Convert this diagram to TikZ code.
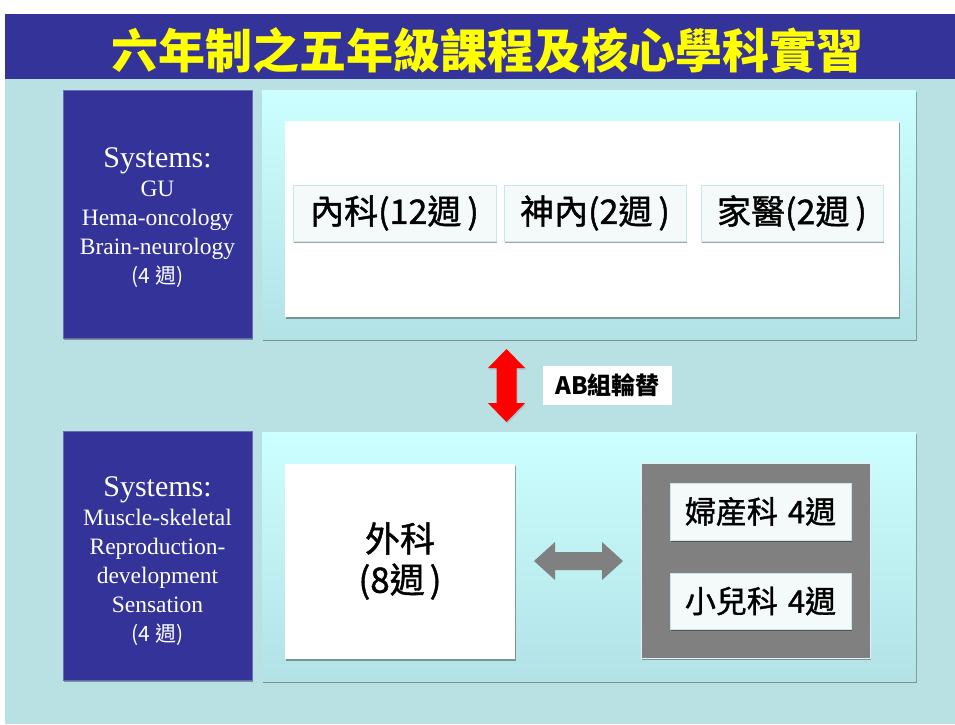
\documentclass[tikz,border=0pt]{standalone}
\usepackage{fontspec}
\setmainfont{Liberation Serif}
\newfontfamily\cjk{Noto Sans CJK TC}
\newfontfamily\cjkh[FakeBold=1.2]{Noto Sans CJK TC}
\usetikzlibrary{shadows}
\definecolor{navy}{HTML}{333399}
\definecolor{navyedge}{HTML}{6A6AB8}
\definecolor{bgteal}{HTML}{B9E1E4}
\definecolor{panetop}{HTML}{CCFFFF}
\definecolor{panebot}{HTML}{B2E2E6}
\definecolor{cellfill}{HTML}{F4F9FA}
\definecolor{celledge}{HTML}{C6E6EA}
\definecolor{grayfill}{HTML}{808080}
\definecolor{titleyellow}{HTML}{FFFF00}
\tikzset{
  shad/.style={drop shadow={shadow xshift=1.2pt, shadow yshift=-2.2pt, fill=black, opacity=0.35}},
  sysbox/.style={fill=navy, draw=navyedge, line width=0.8pt, inner sep=0pt, outer sep=0pt, shad},
  systext/.style={text=white, align=center, font=\fontsize{23.5}{29}\selectfont, inner sep=0pt},
  pane/.style={top color=panetop, bottom color=panebot, draw=none, inner sep=0pt, outer sep=0pt, shad},
  whitebox/.style={fill=white, draw=none, inner sep=0pt, outer sep=0pt, shad},
  cell/.style={fill=cellfill, draw=celledge, line width=0.6pt, inner sep=0pt, outer sep=0pt, shad,
    font=\cjkh\fontsize{34}{38}\selectfont},
  graycell/.style={fill=cellfill, draw=celledge, line width=0.6pt, inner sep=0pt, outer sep=0pt, shad,
    font=\cjkh\fontsize{31}{34}\selectfont},
}
\begin{document}
\begin{tikzpicture}[x=1pt,y=-1pt]
\useasboundingbox (0,0) rectangle (955,724);
\fill[white] (0,0) rectangle (955,724);
\fill[bgteal] (5,79) rectangle (955,724);
\fill[navy] (5,14) rectangle (955,79);
\node[font=\cjk\bfseries\fontsize{47}{50}\selectfont, text=titleyellow] (title) at (487.5,51) {六年制之五年級課程及核心學科實習};

% upper row
\node[sysbox, minimum width=189pt, minimum height=248pt] (sys1) at (157.5,214) {};
\node[systext] (sys1t) at (157.5,218) {{\fontsize{30}{32}\selectfont Systems:}\\GU\\Hema-oncology\\Brain-neurology\\{\cjk\fontsize{21}{24}\selectfont (4 週)}};
\node[pane, minimum width=654pt, minimum height=249pt] (pane1) at (589,214.5) {};
\node[whitebox, minimum width=614pt, minimum height=196pt] (inner1) at (592,219) {};
\node[cell, minimum width=203pt, minimum height=56pt] (med) at (394.5,213) {內科(12週\hspace{6pt})};
\node[cell, minimum width=182pt, minimum height=56pt] (neuro) at (595,213) {神內(2週\hspace{6pt})};
\node[cell, minimum width=182pt, minimum height=56pt] (fam) at (792,213) {家醫(2週\hspace{6pt})};

% rotation arrow and label
\coordinate (swap) at (506.5,385.5);
\fill[red, drop shadow={shadow xshift=1pt, shadow yshift=-1.5pt, opacity=0.3}]
  ([shift={(0,-36.5)}]swap) -- ++(18.5,19) -- ++(-8.5,0) -- ++(0,35) -- ++(8.5,0)
  -- ++(-18.5,19) -- ++(-18.5,-19) -- ++(8.5,0) -- ++(0,-35) -- ++(-8.5,0) -- cycle;
\node[fill=white, minimum width=129pt, minimum height=39pt, inner sep=0pt,
  font=\cjk\bfseries\fontsize{24}{26}\selectfont] (lbl) at (607.5,385.5) {AB組輪替};

% lower row
\node[sysbox, minimum width=189pt, minimum height=249pt] (sys2) at (157.5,555.5) {};
\node[systext] (sys2t) at (157.5,561) {{\fontsize{30}{32}\selectfont Systems:}\\Muscle-skeletal\\Reproduction-\\development\\Sensation\\{\cjk\fontsize{21}{24}\selectfont (4 週)}};
\node[pane, minimum width=654pt, minimum height=249pt] (pane2) at (589,556.5) {};
\node[whitebox, minimum width=230pt, minimum height=195pt, align=center,
  font=\cjkh\fontsize{35}{41}\selectfont] (surg) at (400,561) {外科\\(8週\hspace{5pt})};
\node[fill=grayfill, draw=white!85!gray, line width=0.5pt, inner sep=0pt, outer sep=0pt, shad,
  minimum width=229pt, minimum height=195pt] (grp) at (755.5,560.5) {};
\node[graycell, minimum width=181pt, minimum height=57pt] (obgyn) at (760.5,511.5) {婦産科\hspace{10pt}4週};
\node[graycell, minimum width=181pt, minimum height=56pt] (peds) at (760.5,601) {小兒科\hspace{10pt}4週};
\coordinate (link) at (578.5,561);
\fill[grayfill]
  ([shift={(-44.5,0)}]link) -- ++(21,-19) -- ++(0,10) -- ++(47,0) -- ++(0,-10)
  -- ++(21,19) -- ++(-21,19) -- ++(0,-10) -- ++(-47,0) -- ++(0,10) -- cycle;
\end{tikzpicture}
\end{document}
